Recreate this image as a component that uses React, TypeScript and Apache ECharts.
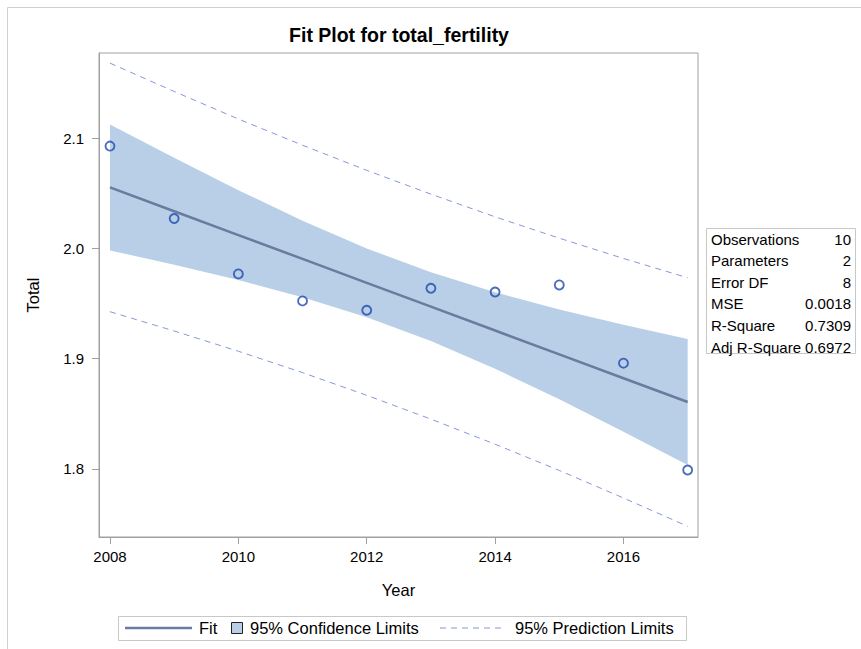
import React, { useEffect, useRef } from "react";
import * as echarts from "echarts";

const years = [2008, 2009, 2010, 2011, 2012, 2013, 2014, 2015, 2016, 2017];
const totals = [2.093, 2.0273, 1.977, 1.9525, 1.944, 1.964, 1.9606, 1.967, 1.896, 1.799];
const fitValues = [2.0555, 2.0339, 2.0122, 1.9906, 1.9689, 1.9473, 1.9256, 1.904, 1.8823, 1.8607];
const ciLower = [1.9983, 1.9854, 1.9714, 1.9559, 1.9377, 1.9161, 1.8909, 1.8632, 1.8338, 1.8035];
const ciUpper = [2.1127, 2.0824, 2.053, 2.0253, 2.0001, 1.9785, 1.9603, 1.9448, 1.9308, 1.9179];
const piLower = [1.9427, 1.9252, 1.9068, 1.8874, 1.8668, 1.8452, 1.8224, 1.7986, 1.7736, 1.7479];
const piUpper = [2.1683, 2.1426, 2.1176, 2.0938, 2.071, 2.0494, 2.0288, 2.0094, 1.991, 1.9735];
const xTicks = [2008, 2010, 2012, 2014, 2016];
const yTicks = [1.8, 1.9, 2.0, 2.1];
const statLabels = ["Observations", "Parameters", "Error DF", "MSE", "R-Square", "Adj R-Square"];
const statValues = ["10", "2", "8", "0.0018", "0.7309", "0.6972"];
const titleText = "Fit Plot for total_fertility";
const legendFit = "Fit";
const legendCI = "95% Confidence Limits";
const legendPI = "95% Prediction Limits";

const FONT = "'Liberation Sans', Arial, sans-serif";
const FIT_COLOR = "#6a7b9e";
const CI_COLOR = "#b9cfe8";
const PI_COLOR = "#8797d8";
const MARK_COLOR = "#1f48ad";
const AXIS_COLOR = "#a0a0a0";

export default function App() {
  const ref = useRef<HTMLDivElement>(null);
  useEffect(() => {
    if (!ref.current) return;
    const chart = echarts.init(ref.current, null, { renderer: "svg" });
    const pair = (ys: number[]) => years.map((x, i) => [x, ys[i]]);

    const statsGraphics: any[] = [
      {
        type: "rect",
        shape: { x: 706.5, y: 228.5, width: 149, height: 125 },
        style: { fill: "#fff", stroke: "#c8c8c8", lineWidth: 1 },
      },
    ];
    statLabels.forEach((l, i) => {
      statsGraphics.push({
        type: "text",
        x: 711,
        y: 239 + i * 21.6,
        style: { text: l, font: `15px ${FONT}`, fill: "#000", verticalAlign: "middle", textAlign: "left" },
      });
      statsGraphics.push({
        type: "text",
        x: 851,
        y: 239 + i * 21.6,
        style: { text: statValues[i], font: `15px ${FONT}`, fill: "#000", verticalAlign: "middle", textAlign: "right" },
      });
    });

    const ly = 628;
    const legendGraphics: any[] = [
      {
        type: "rect",
        shape: { x: 118.5, y: 616.5, width: 568, height: 24 },
        style: { fill: "#fff", stroke: "#c8c8c8", lineWidth: 1 },
      },
      { type: "line", shape: { x1: 125, y1: ly, x2: 192, y2: ly }, style: { stroke: FIT_COLOR, lineWidth: 2.5 } },
      { type: "text", x: 199, y: ly, style: { text: legendFit, font: `16.5px ${FONT}`, fill: "#000", verticalAlign: "middle" } },
      {
        type: "rect",
        shape: { x: 231.5, y: ly - 5.5, width: 11, height: 11 },
        style: { fill: CI_COLOR, stroke: "#222", lineWidth: 1 },
      },
      { type: "text", x: 250, y: ly, style: { text: legendCI, font: `16.5px ${FONT}`, fill: "#000", verticalAlign: "middle" } },
      {
        type: "line",
        shape: { x1: 440, y1: ly, x2: 504, y2: ly },
        style: { stroke: PI_COLOR, lineWidth: 1, lineDash: [6, 5] },
      },
      { type: "text", x: 515, y: ly, style: { text: legendPI, font: `16.5px ${FONT}`, fill: "#000", verticalAlign: "middle" } },
    ];

    chart.setOption({
      animation: false,
      backgroundColor: "#fff",
      grid: {
        left: 99,
        top: 53,
        right: 163,
        bottom: 112,
        show: true,
        borderColor: AXIS_COLOR,
        borderWidth: 1,
        containLabel: false,
      },
      xAxis: {
        type: "value",
        min: 2007.829,
        max: 2017.161,
        name: "Year",
        nameLocation: "middle",
        nameGap: 44,
        nameTextStyle: { fontFamily: FONT, fontSize: 16.5, color: "#000" },
        axisLine: { show: true, lineStyle: { color: AXIS_COLOR } },
        axisTick: { show: true, length: 7, lineStyle: { color: AXIS_COLOR }, customValues: xTicks },
        axisLabel: {
          fontFamily: FONT,
          fontSize: 15,
          color: "#000",
          margin: 12,
          customValues: xTicks,
          formatter: (v: number) => String(v),
        },
        splitLine: { show: false },
      },
      yAxis: {
        type: "value",
        min: 1.7382,
        max: 2.1775,
        name: "Total",
        nameLocation: "middle",
        nameGap: 58,
        nameRotate: 90,
        nameTextStyle: { fontFamily: FONT, fontSize: 16.5, color: "#000" },
        axisLine: { show: true, lineStyle: { color: AXIS_COLOR } },
        axisTick: { show: true, length: 7, lineStyle: { color: AXIS_COLOR }, customValues: yTicks },
        axisLabel: {
          fontFamily: FONT,
          fontSize: 15,
          color: "#000",
          margin: 15,
          customValues: yTicks,
          formatter: (v: number) => v.toFixed(1),
        },
        splitLine: { show: false },
      },
      series: [
        {
          type: "custom",
          name: legendCI,
          data: years.map((x, i) => [x, ciLower[i], ciUpper[i]]),
          encode: { x: 0, y: [1, 2] },
          clip: true,
          silent: true,
          z: 1,
          renderItem: (params: any, api: any) => {
            if (params.dataIndex !== 0) return null;
            const pts: number[][] = [];
            years.forEach((x, i) => pts.push(api.coord([x, ciUpper[i]])));
            for (let i = years.length - 1; i >= 0; i--) pts.push(api.coord([years[i], ciLower[i]]));
            return { type: "polygon", shape: { points: pts }, style: { fill: CI_COLOR } };
          },
        },
        {
          type: "line",
          name: legendFit,
          data: pair(fitValues),
          symbol: "none",
          lineStyle: { color: FIT_COLOR, width: 2.5 },
          z: 3,
        },
        {
          type: "line",
          name: legendPI,
          data: pair(piUpper),
          symbol: "none",
          lineStyle: { color: PI_COLOR, width: 1, type: [6, 5] },
          z: 3,
        },
        {
          type: "line",
          name: legendPI + " lower",
          data: pair(piLower),
          symbol: "none",
          lineStyle: { color: PI_COLOR, width: 1, type: [6, 5] },
          z: 3,
        },
        {
          type: "scatter",
          name: "Total",
          data: pair(totals),
          symbol: "circle",
          symbolSize: 9,
          itemStyle: { color: "rgba(255,255,255,0)", borderColor: MARK_COLOR, borderWidth: 1.9 },
          z: 4,
        },
      ],
      graphic: [
        { type: "line", shape: { x1: 7.5, y1: 7.5, x2: 861, y2: 7.5 }, style: { stroke: "#d0d0d0", lineWidth: 1 } },
        { type: "line", shape: { x1: 7.5, y1: 7.5, x2: 7.5, y2: 649 }, style: { stroke: "#d0d0d0", lineWidth: 1 } },
        {
          type: "text",
          x: 399,
          y: 35,
          style: { text: titleText, font: `bold 19.5px ${FONT}`, fill: "#000", textAlign: "center", verticalAlign: "middle" },
        },
        ...statsGraphics,
        ...legendGraphics,
      ],
    });
    return () => chart.dispose();
  }, []);
  return <div ref={ref} style={{ position: "absolute", left: 0, top: 0, width: 861, height: 649 }} />;
}
